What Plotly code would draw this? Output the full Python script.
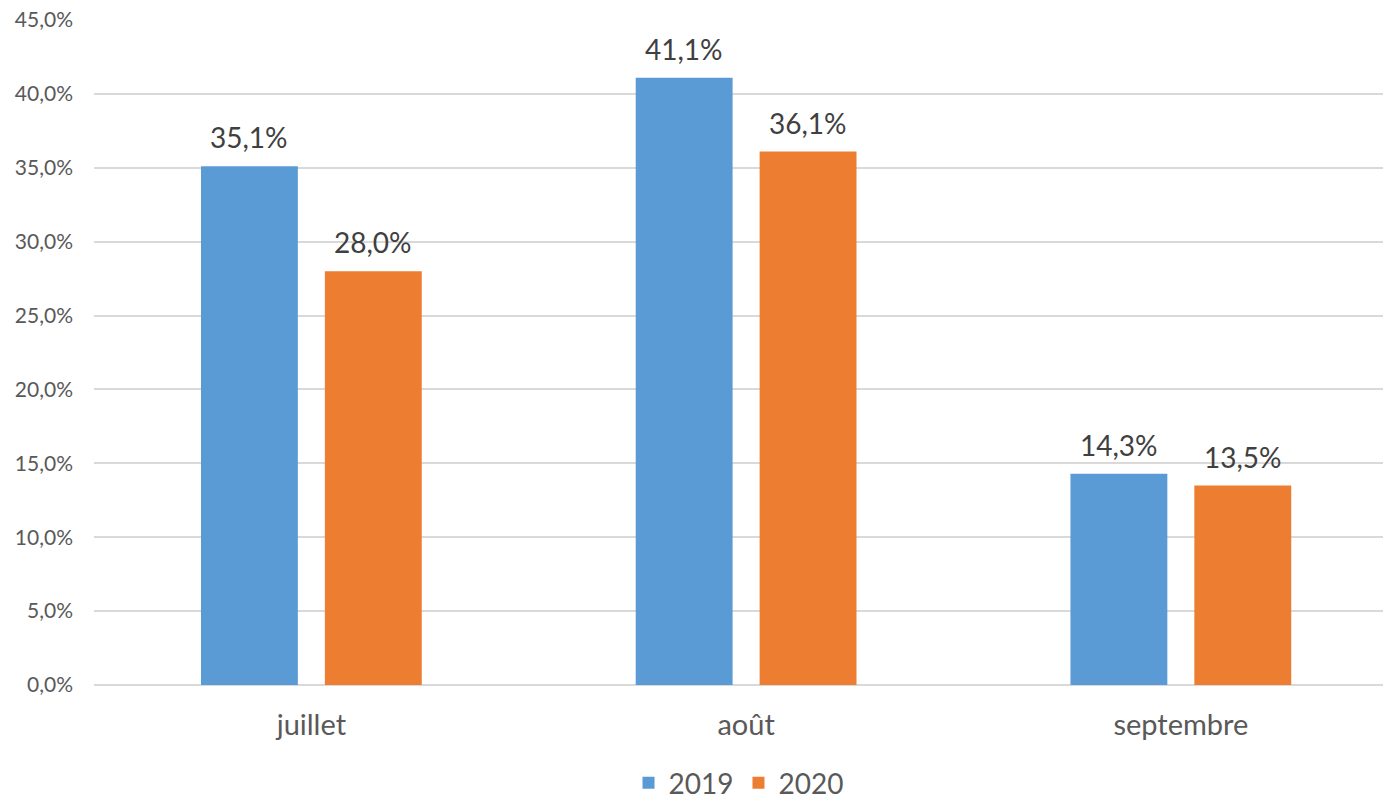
import plotly.graph_objects as go

categories = ["juillet", "août", "septembre"]
series_names = ["2019", "2020"]
values_2019 = [0.351, 0.411, 0.143]
values_2020 = [0.280, 0.361, 0.135]
y_ticks = [0, 0.05, 0.10, 0.15, 0.20, 0.25, 0.30, 0.35, 0.40, 0.45]

colors = ["#5B9BD5", "#ED7D31"]
FONT = "Lato"

fig = go.Figure()
for name, vals, col in zip(series_names, [values_2019, values_2020], colors):
    fig.add_trace(go.Bar(x=categories, y=vals, name=name, marker_color=col,
                         marker_line_width=0))

# data labels
for si, vals in enumerate([values_2019, values_2020]):
    for ci, v in enumerate(vals):
        fig.add_annotation(x=categories[ci], y=v, xref="x", yref="y",
                           text=f"{v*100:.1f}%".replace(".", ","),
                           showarrow=False, yanchor="bottom",
                           xshift=(-62 if si == 0 else 62), yshift=10,
                           font=dict(family=FONT, size=28, color="#404040"))

fig.update_layout(
    width=1383, height=802,
    margin=dict(l=94, r=0, t=20, b=117, autoexpand=False),
    paper_bgcolor="white", plot_bgcolor="white",
    barmode="group", bargap=0.43, bargroupgap=0.218,
    separators=", ",
    font=dict(family=FONT, color="#595959"),
    legend=dict(orientation="h", x=0.5, xanchor="center",
                yref="container", y=1 - 783 / 802, yanchor="middle",
                font=dict(family=FONT, size=28, color="#595959"),
                itemwidth=30, traceorder="normal"),
    xaxis=dict(range=[-0.5, 2.465], showgrid=False, zeroline=False, showline=False,
               automargin=False,
               tickfont=dict(family=FONT, size=29, color="#595959"),
               ticks="outside", ticklen=0, ticklabelstandoff=14),
    yaxis=dict(range=[0, 0.45], tickvals=y_ticks, tickformat=".1%",
               automargin=False,
               showgrid=True, gridcolor="#D9D9D9", gridwidth=2,
               zeroline=True, zerolinecolor="#D9D9D9", zerolinewidth=2,
               showline=False,
               tickfont=dict(family=FONT, size=21, color="#595959"),
               ticklabelstandoff=20),
)

fig.write_html("out.html", config={"displayModeBar": False},
               post_script="document.body.style.margin='0';document.body.style.overflow='hidden';")
